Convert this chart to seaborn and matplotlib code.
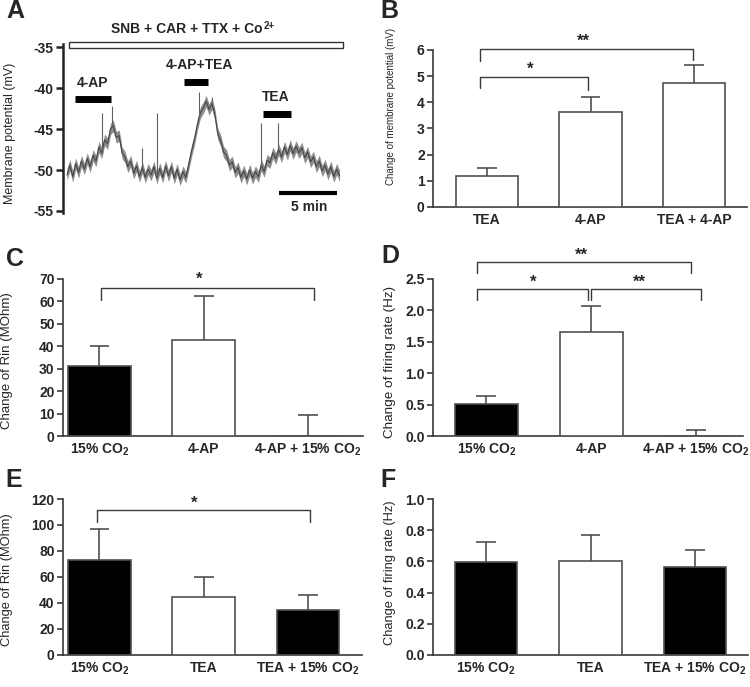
import numpy as np
import pandas as pd
import matplotlib
matplotlib.use("Agg")
import matplotlib.pyplot as plt
from matplotlib.patches import Rectangle
import seaborn as sns

# ---------------- DATA ----------------
# Panel A: membrane potential trace (time in min, mV)
trace_t = [i * 0.25 for i in range(95)]
trace_mv = [-50.6, -49.4, -50.8, -49.2, -50.3, -48.9, -49.9, -48.6, -49.6, -48.2,
            -48.9, -47.2, -47.9, -46.3, -46.8, -45.0, -44.6, -46.0, -45.8, -47.9,
            -48.4, -49.6, -48.9, -50.4, -49.5, -50.8, -49.7, -50.9, -49.9, -50.6,
            -49.6, -51.0, -49.8, -50.9, -49.5, -50.7, -49.6, -51.0, -49.9, -51.2,
            -50.2, -50.9, -49.3, -47.6, -46.2, -44.4, -43.0, -42.4, -41.6, -42.6,
            -41.9, -43.2, -45.6, -46.4, -47.8, -48.2, -49.4, -49.0, -50.3, -49.7,
            -50.9, -50.1, -51.1, -50.0, -51.0, -50.2, -50.8, -49.4, -50.2, -48.8,
            -49.1, -47.9, -48.6, -47.5, -48.4, -47.2, -48.1, -47.0, -48.0, -47.1,
            -47.9, -47.3, -48.5, -47.8, -49.0, -48.4, -49.6, -48.9, -50.1, -49.4,
            -50.5, -49.6, -50.8, -49.9, -50.7]
spike_t = [3.0, 3.9, 6.5, 7.8, 11.4, 12.5, 16.7, 18.2]
spike_peak = [-43.0, -42.2, -47.3, -43.0, -40.5, -41.1, -44.2, -44.2]
drug_names = ["4-AP", "4-AP+TEA", "TEA"]
drug_start = [0.7, 10.1, 16.9]
drug_end = [3.8, 12.2, 19.3]
a_yticks = [-35, -40, -45, -50, -55]

# Panel B
b_cats = ["TEA", "4-AP", "TEA + 4-AP"]
b_vals = [1.18, 3.63, 4.75]
b_tops = [1.50, 4.22, 5.43]

# Panel C
c_cats = ["15% CO$_\\mathbf{2}$", "4-AP", "4-AP + 15% CO$_\\mathbf{2}$"]
c_vals = [31.0, 42.6, 0.0]
c_tops = [40.2, 62.2, 9.5]

# Panel D
d_cats = ["15% CO$_\\mathbf{2}$", "4-AP", "4-AP + 15% CO$_\\mathbf{2}$"]
d_vals = [0.51, 1.65, 0.0]
d_tops = [0.63, 2.07, 0.10]

# Panel E
e_cats = ["15% CO$_\\mathbf{2}$", "TEA", "TEA + 15% CO$_\\mathbf{2}$"]
e_vals = [73.0, 45.0, 35.0]
e_tops = [97.0, 60.0, 46.0]

# Panel F
f_cats = ["15% CO$_\\mathbf{2}$", "TEA", "TEA + 15% CO$_\\mathbf{2}$"]
f_vals = [0.595, 0.60, 0.565]
f_tops = [0.725, 0.77, 0.67]

# ---------------- STYLE ----------------
sns.set_theme(style="ticks")
plt.rcParams['font.family'] = ['Liberation Sans', 'DejaVu Sans']
plt.rcParams['font.weight'] = 'bold'
plt.rcParams['mathtext.fontset'] = 'custom'
plt.rcParams['mathtext.rm'] = 'Liberation Sans'
plt.rcParams['mathtext.bf'] = 'Liberation Sans:bold'

W, H = 750, 687
fig = plt.figure(figsize=(7.5, 6.87), dpi=100)


def add_ax(l, r, t, b):
    return fig.add_axes([l / W, 1 - b / H, (r - l) / W, (b - t) / H])


EDGE = '#505050'
SPINE = '#3a3a3a'


def bar_panel(ax, cats, vals, tops, colors, xlim, ylim, yticks, fmt, ylabel,
              lab_xy, lab_size):
    df = pd.DataFrame({"cat": cats, "val": vals})
    pal = dict(zip(cats, colors))
    sns.barplot(data=df, x="cat", y="val", hue="cat", palette=pal, order=cats,
                hue_order=cats, width=0.6, edgecolor=EDGE, linewidth=1.2,
                legend=False, errorbar=None, ax=ax, zorder=3, saturation=1)
    xs = np.arange(len(cats))
    ax.vlines(xs, vals, tops, color=EDGE, lw=1.2, zorder=2)
    ax.hlines(tops, xs - 0.095, xs + 0.095, color=EDGE, lw=1.2, zorder=2)
    ax.set_xlim(*xlim)
    ax.set_ylim(*ylim)
    ax.set_yticks(yticks)
    ax.set_yticklabels([fmt.format(v) for v in yticks])
    ax.set_xlabel("")
    ax.set_ylabel(ylabel, fontsize=lab_size, fontweight='normal')
    ax.yaxis.set_label_coords(*lab_xy)
    for s in ['top', 'right']:
        ax.spines[s].set_visible(False)
    for s in ['left', 'bottom']:
        ax.spines[s].set_color(SPINE)
        ax.spines[s].set_linewidth(1.2)
    ax.tick_params(axis='y', direction='out', length=4, width=1.2, color=SPINE,
                   labelsize=10, pad=2)
    ax.tick_params(axis='x', length=0, labelsize=10, pad=4)
    ax.set_facecolor('white')


def bracket(ax, x0, x1, top, yl, yr, star, sx, sy):
    ax.plot([x0, x0, x1, x1], [yl, top, top, yr], color=SPINE, lw=1.0,
            clip_on=False, zorder=4)
    ax.text(sx, sy, star, ha='center', va='center', fontsize=12,
            fontweight='bold', clip_on=False)


# ---------------- PANEL A ----------------
axA = add_ax(63, 345, 44, 213)
mv = np.array(trace_mv)
axA.fill_between(trace_t, mv - 0.7, mv + 0.7, color='#8c8c8c', lw=0)
sns.lineplot(x=trace_t, y=trace_mv, ax=axA, color='#454545', lw=0.8)
base = np.interp(spike_t, trace_t, trace_mv)
axA.vlines(spike_t, base, spike_peak, color='#606060', lw=0.8)
axA.set_xlim(-0.34, 23.97)
axA.set_ylim(-55.25, -34.6)
axA.set_yticks(a_yticks)
axA.set_yticklabels([str(v) for v in a_yticks])
for s in ['top', 'right', 'bottom']:
    axA.spines[s].set_visible(False)
axA.spines['left'].set_color('#222222')
axA.spines['left'].set_linewidth(1.8)
axA.tick_params(axis='y', direction='out', length=5, width=1.8, color='#222222',
                labelsize=10, pad=2)
axA.set_xticks([])
axA.set_ylabel("Membrane potential (mV)", fontsize=9, fontweight='normal')
axA.yaxis.set_label_coords(-0.167, 0.47)
axA.add_patch(Rectangle((0.17, -35.1), 23.6, 0.75, fc='white', ec='#333333',
                        lw=1.0, clip_on=False))
axA.text(16.9, -33.3, "SNB + CAR + TTX + Co", ha='right', va='baseline',
         fontsize=10, fontweight='bold')
axA.text(16.95, -32.75, "2+", ha='left', va='baseline', fontsize=7,
         fontweight='bold')
bar_y = [-41.3, -39.3, -43.2]
lab_t = [2.2, 11.4, 18.0]
lab_y = [-39.8, -37.6, -41.6]
for name, t0, t1, by, lt, ly in zip(drug_names, drug_start, drug_end, bar_y, lab_t, lab_y):
    axA.plot([t0, t1], [by, by], color='black', lw=5, solid_capstyle='butt')
    axA.text(lt, ly, name, ha='center', va='baseline', fontsize=10, fontweight='bold')
axA.plot([18.3, 23.3], [-52.8, -52.8], color='black', lw=3, solid_capstyle='butt')
axA.text(20.9, -55.0, "5 min", ha='center', va='baseline', fontsize=10,
         fontweight='bold', clip_on=False)

# ---------------- PANEL B ----------------
axB = add_ax(433, 747, 50, 207)
bar_panel(axB, b_cats, b_vals, b_tops, ['white'] * 3, (-0.52, 2.51), (0, 6),
          [0, 1, 2, 3, 4, 5, 6], "{:.0f}", "Change of membrane potential (mV)",
          (-0.118, 0.64), 7)
bracket(axB, -0.07, 0.98, 4.98, 4.53, 4.49, "*", 0.42, 5.25)
bracket(axB, -0.07, 1.99, 6.03, 5.58, 5.62, "**", 0.93, 6.32)

# ---------------- PANEL C ----------------
axC = add_ax(63, 363, 279, 436)
bar_panel(axC, c_cats, c_vals, c_tops, ['black', 'white', 'white'], (-0.35, 2.53),
          (0, 70), list(range(0, 71, 10)), "{:.0f}", "Change of Rin (MOhm)",
          (-0.167, 0.48), 9.5)
bracket(axC, 0.01, 2.06, 66.0, 60.5, 60.5, "*", 0.96, 70.0)

# ---------------- PANEL D ----------------
axD = add_ax(433, 743, 279, 436)
bar_panel(axD, d_cats, d_vals, d_tops, ['black', 'white', 'white'], (-0.51, 2.45),
          (0, 2.5), [0, 0.5, 1.0, 1.5, 2.0, 2.5], "{:.1f}",
          "Change of firing rate (Hz)", (-0.118, 0.47), 9.7)
bracket(axD, -0.09, 1.95, 2.77, 2.60, 2.60, "**", 0.91, 2.88)
bracket(axD, -0.09, 0.97, 2.34, 2.17, 2.16, "*", 0.45, 2.45)
bracket(axD, 1.00, 2.05, 2.34, 2.17, 2.17, "**", 1.46, 2.45)

# ---------------- PANEL E ----------------
axE = add_ax(63, 362, 499, 655)
bar_panel(axE, e_cats, e_vals, e_tops, ['black', 'white', 'black'], (-0.35, 2.52),
          (0, 120), list(range(0, 121, 20)), "{:.0f}", "Change of Rin (MOhm)",
          (-0.167, 0.48), 9.3)
bracket(axE, -0.02, 2.02, 111.5, 102.6, 102.6, "*", 0.91, 116.5)

# ---------------- PANEL F ----------------
axF = add_ax(433, 748, 499, 655)
bar_panel(axF, f_cats, f_vals, f_tops, ['black', 'white', 'black'], (-0.51, 2.51),
          (0, 1.0), [0, 0.2, 0.4, 0.6, 0.8, 1.0], "{:.1f}",
          "Change of firing rate (Hz)", (-0.118, 0.53), 9.3)

# ---------------- PANEL LETTERS ----------------
for letter, x, y in [("A", 6, 18), ("B", 380, 18), ("C", 6, 266), ("D", 381, 263),
                     ("E", 5, 487), ("F", 380, 487)]:
    fig.text(x / W, 1 - y / H, letter, fontsize=18, fontweight='bold',
             ha='left', va='baseline')

fig.savefig("out.png", dpi=100, facecolor='white')
